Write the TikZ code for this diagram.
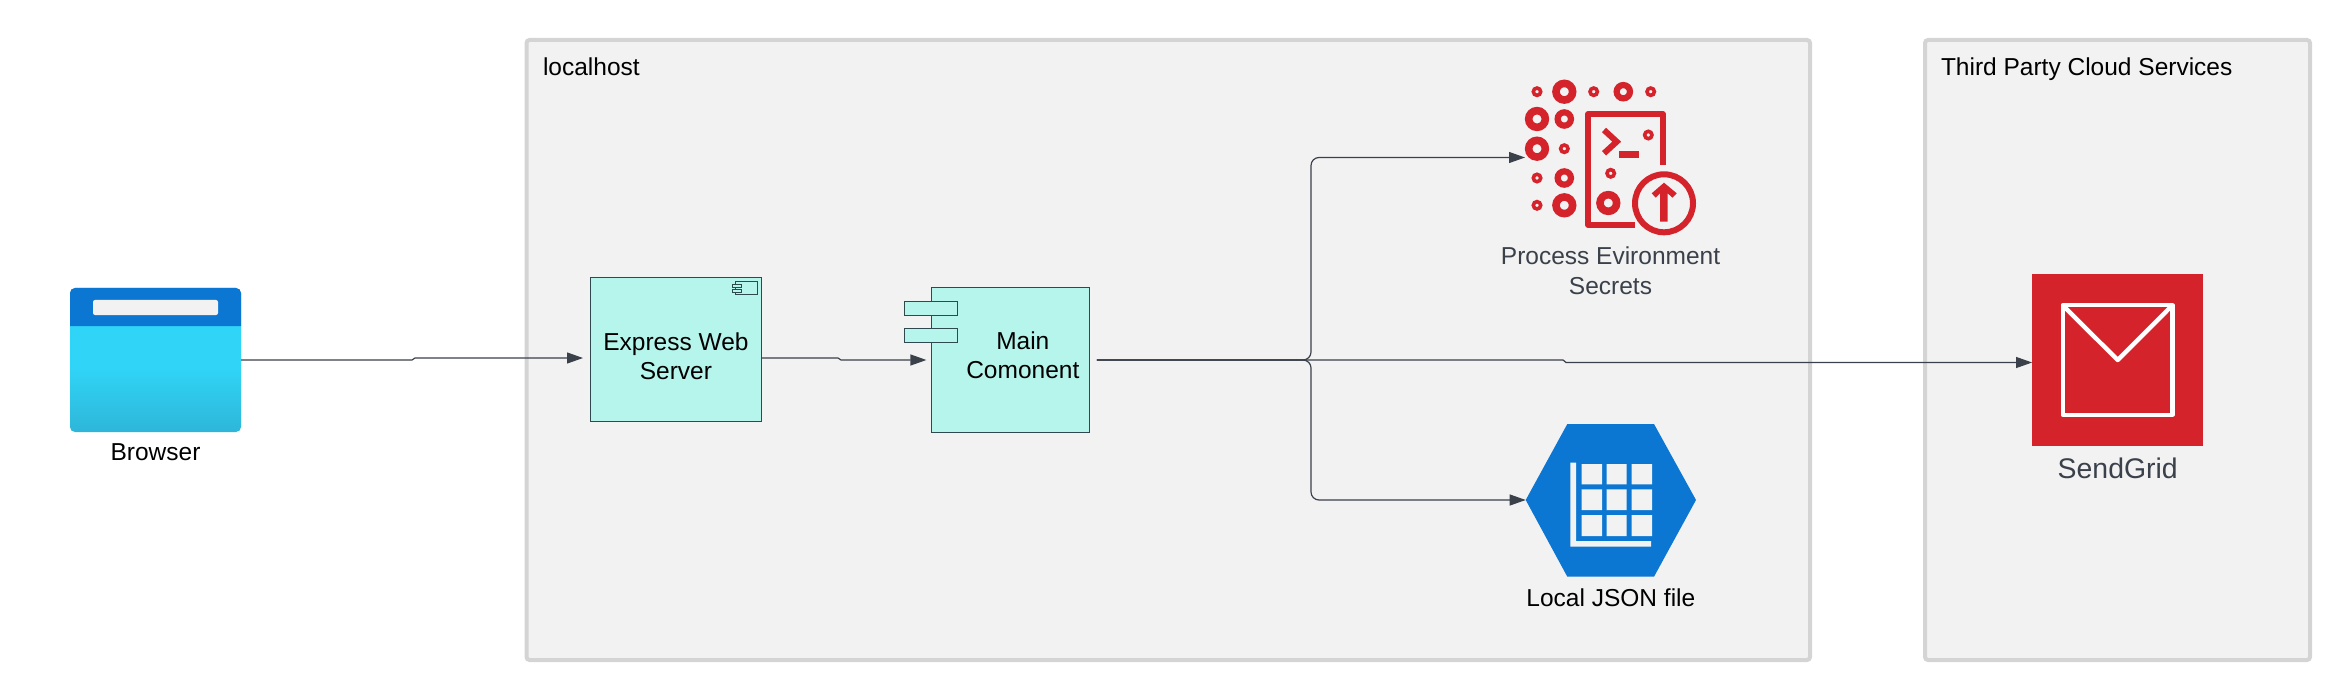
\documentclass[tikz,border=0pt]{standalone}
\usepackage{fontspec}
\setmainfont{Liberation Sans}
\usetikzlibrary{arrows.meta,positioning}
\definecolor{panelgray}{HTML}{F2F2F2}
\definecolor{panelline}{HTML}{D4D4D4}
\definecolor{mint}{HTML}{B6F5EC}
\definecolor{boxline}{HTML}{2F4A4E}
\definecolor{slate}{HTML}{3A414A}
\definecolor{iconred}{HTML}{D5232B}
\definecolor{iconblue}{HTML}{0C77D3}
\definecolor{skytop}{HTML}{30D4F6}
\definecolor{skybot}{HTML}{2EB6D9}
\pgfdeclareverticalshading{browserbody}{100bp}{color(0bp)=(skybot); color(25bp)=(skybot); color(47bp)=(skytop); color(100bp)=(skytop)}
\begin{document}
\begin{tikzpicture}[x=0.5pt,y=-0.5pt,semithick,align=center,
    every node/.style={inner sep=0,outer sep=0,font=\fontsize{12.25}{14.6}\selectfont},
    panel/.style={draw=panelline,fill=panelgray,line width=2pt,rounded corners=1.5pt},
    mintbox/.style={draw=boxline,fill=mint,line width=0.5pt},
    flow/.style={-{Triangle[length=8pt,width=5.5pt]},color=slate,line width=0.6pt},
    ringsmall/.style={draw=iconred,line width=1.8pt},
    ringmid/.style={draw=iconred,line width=3.1pt},
    ringlarge/.style={draw=iconred,line width=3.8pt},
    iconline/.style={draw=iconred,line width=3pt,line join=round}]
    \useasboundingbox (0,0) rectangle (2350,700);
	\node (localhost) at (1168.25,350) [panel,minimum width=641.75pt,minimum height=310pt] {};
	\node (thirdparty) at (2117.5,350) [panel,minimum width=192.5pt,minimum height=310pt] {};
	\node (localhosttitle) at (543,76) [anchor=base west] {localhost};
	\node (thirdpartytitle) at (1941,76) [anchor=base west] {Third Party Cloud Services};

	\node (browser) at (155.5,360) [minimum width=85.5pt,minimum height=72pt,rounded corners=2.5pt,shading=browserbody] {};
	\fill[iconblue] (70,326) [rounded corners=2.5pt] -- (70,288) -- (241,288) [sharp corners] -- (241,326) -- cycle;
	\fill[panelgray,rounded corners=1pt] (93,300) rectangle (218,315);
	\node (browserlabel) [below of=browser,node distance=50pt,anchor=base] {Browser};

	\node (express) at (675.9,349.5) [mintbox,minimum width=85.6pt,minimum height=71.5pt] {};
	\node (expresstext) at (675.9,356) {Express Web\\Server};
	\draw[boxline,fill=mint,line width=0.5pt] (735.3,282) rectangle (757.7,295);
	\draw[boxline,fill=mint,line width=0.5pt] (732.9,284.7) rectangle (741.5,288);
	\draw[boxline,fill=mint,line width=0.5pt] (732.9,289.7) rectangle (741.5,293);

	\node (main) at (1010.25,360) [mintbox,minimum width=79.05pt,minimum height=72pt] {};
	\node (tabtop) at (931,308.5) [mintbox,minimum width=26.65pt,minimum height=6.5pt] {};
	\node (tabbottom) at (931,335) [mintbox,minimum width=26.65pt,minimum height=7pt] {};
	\node (maintext) at (1022.8,355) {Main\\Comonent};

	\node (secrets) at (1610.5,157.5) [minimum width=85.5pt,minimum height=77.5pt] {};
	\draw[ringsmall] (1537,91.7) circle (3.67) (1593.7,91.7) circle (3.67) (1650.7,91.7) circle (3.67)
        (1564.3,148.7) circle (3.67) (1537,178) circle (3.67) (1537,205.3) circle (3.67)
        (1648.3,135) circle (3.67) (1610.7,173.3) circle (3.67);
	\draw[ringmid] (1623.3,91.7) circle (6.67) (1564.3,119) circle (6.67) (1564.3,178) circle (6.67);
	\draw[ringlarge] (1564.3,91.7) circle (8.33) (1537,119) circle (8.33) (1537,148.7) circle (8.33)
        (1564.3,205.3) circle (8.33) (1608.3,203) circle (8.33);
	\draw[iconline] (1662.7,165) -- (1662.7,114) -- (1588.3,114) -- (1588.3,225) -- (1635,225);
	\draw[iconline,line join=miter] (1604,130) -- (1616.7,141.7) -- (1604,153.3);
	\fill[iconred] (1619,151) rectangle (1639.3,157.7);
	\draw[iconline] (1664,203.3) circle (29);
	\fill[iconred] (1664,182.7) -- (1676.7,193.3) -- (1672.3,197.7) -- (1667.7,193.3) -- (1667.7,221.7)
        -- (1660,221.7) -- (1660,193.3) -- (1655.7,197.7) -- (1651.7,193.3) -- cycle;
	\node (secretslabel) [below of=secrets,node distance=68.25pt,anchor=base,text=slate] {Process Evironment\\Secrets};

	\node (jsonfile) at (1610.85,500) [minimum width=85.15pt,minimum height=76.35pt] {};
	\fill[iconblue] (1525.7,500) -- (1567.3,424) -- (1654,424) -- (1696,500) -- (1654,576.7) -- (1567.3,576.7) -- cycle;
	\fill[panelgray] (1581.7,464) rectangle (1602,484.3) (1606.7,464) rectangle (1626.7,484.3) (1631.7,464) rectangle (1652,484.3)
        (1581.7,489.3) rectangle (1602,510) (1606.7,489.3) rectangle (1626.7,510) (1631.7,489.3) rectangle (1652,510)
        (1581.7,515) rectangle (1602,536) (1606.7,515) rectangle (1626.7,536) (1631.7,515) rectangle (1652,536);
	\fill[panelgray] (1570.3,462.7) -- (1576,462.7) -- (1576,541) -- (1651,541) -- (1651,546.7) -- (1570.3,546.7) -- cycle;
	\node (jsonlabel) [below of=jsonfile,node distance=53pt,anchor=base] {Local JSON file};

	\node (sendgrid) at (2117.7,360) [fill=iconred,minimum width=85.65pt,minimum height=85.65pt] {};
	\draw[white,line width=2.2pt,line join=round] (2062.7,305.3) rectangle (2172.3,414.7);
	\draw[white,line width=2.2pt,line join=round] (2062.7,305.3) -- (2117.7,360) -- (2172.3,305.3);
	\node (sendgridlabel) [below of=sendgrid,node distance=59pt,anchor=base,text=slate,font=\fontsize{14.2}{17}\selectfont] {SendGrid};

	\coordinate (kinkbrowser) at (412,360);
	\coordinate (kinkexpress) at (838,358);
	\coordinate (split) at (1311,360);
	\coordinate (kinkmain) at (1563,360);
	\draw[flow] (browser.east) -- (kinkbrowser) -- (415,358) -- ([yshift=-4.25pt,xshift=-3.65pt]express.west);
	\draw[flow] ([yshift=-4.25pt]express.east) -- (kinkexpress) -- (841,360) -- ([xshift=-2.4pt]main.west);
	\draw[flow] ([xshift=3.8pt]main.east) -- (kinkmain) -- (1566,362.5) -- ([yshift=-1.25pt]sendgrid.west);
	\draw[flow,rounded corners=4pt] ([xshift=3.8pt]main.east) -- (split) |- (secrets.west);
	\draw[flow,rounded corners=4pt] ([xshift=3.8pt]main.east) -- (split) |- (jsonfile.west);
\end{tikzpicture}
\end{document}
